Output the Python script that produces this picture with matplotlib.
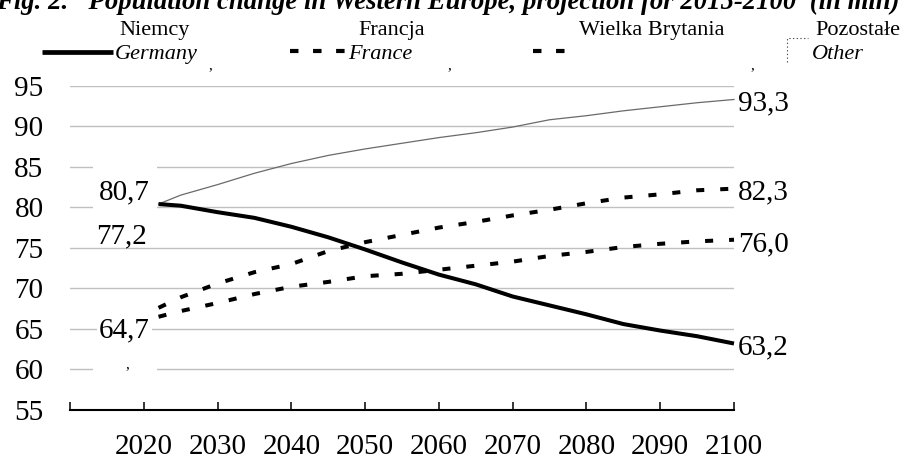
import matplotlib
matplotlib.use('Agg')
import matplotlib.pyplot as plt
from matplotlib.lines import Line2D
from matplotlib.patches import Rectangle

plt.rcParams['font.family'] = ['Liberation Serif', 'DejaVu Serif']
plt.rcParams['lines.scale_dashes'] = False

# dane (mln)
years = [2022, 2025, 2030, 2035, 2040, 2045, 2050, 2055, 2060, 2065, 2070, 2075, 2080, 2085, 2090, 2095, 2100]
germany = [80.4, 80.2, 79.4, 78.7, 77.6, 76.3, 74.8, 73.2, 71.7, 70.5, 69.0, 67.9, 66.8, 65.6, 64.8, 64.1, 63.2]
france = [66.5, 67.2, 68.2, 69.3, 70.2, 70.8, 71.5, 71.8, 72.3, 72.8, 73.3, 74.0, 74.5, 75.1, 75.5, 75.8, 76.0]
uk = [67.6, 68.9, 70.6, 72.0, 73.0, 74.6, 75.7, 76.6, 77.5, 78.2, 79.0, 79.7, 80.5, 81.2, 81.6, 82.1, 82.3]
other = [80.4, 81.5, 82.8, 84.2, 85.4, 86.4, 87.2, 87.9, 88.6, 89.2, 89.9, 90.8, 91.3, 91.9, 92.4, 92.9, 93.3]
start_labels = ['80,7', '77,2', '64,7']

year_ticks = [2010, 2020, 2030, 2040, 2050, 2060, 2070, 2080, 2090, 2100]
year_labels = ['', '2020', '2030', '2040', '2050', '2060', '2070', '2080', '2090', '2100']
y_ticks = [55, 60, 65, 70, 75, 80, 85, 90, 95]

names_pl = ['Niemcy', 'Francja', 'Wielka Brytania', 'Pozostałe']
names_en = ['Germany', 'France', '', 'Other']
title = 'Fig. 2.   Population change in Western Europe, projection for 2015-2100  (in mln)'

W, H = 913, 462
fig = plt.figure(figsize=(W / 100, H / 100), dpi=100)
ax = fig.add_axes([70 / W, 1 - 410 / H, 664 / W, (410 - 85.7) / H])

dash = (0, (5.8, 11.5))
ax.plot(years, other, color='#6a6a6a', lw=0.9, clip_on=False, zorder=2)
ax.plot(years, france, color='black', lw=2.9, linestyle=dash, dash_capstyle='butt', clip_on=False, zorder=3)
ax.plot(years, uk, color='black', lw=2.9, linestyle=dash, dash_capstyle='butt', clip_on=False, zorder=3)
ax.plot(years, germany, color='black', lw=2.9, solid_capstyle='butt', clip_on=False, zorder=4)

# etykiety na koncu linii
for s in [germany, france, uk, other]:
    ax.annotate(('%.1f' % s[-1]).replace('.', ','), (years[-1], s[-1]), xytext=(3, -3),
                textcoords='offset points', ha='left', va='center', fontsize=21,
                annotation_clip=False)

# etykiety na poczatku (przesuniete jak w oryginale)
ax.annotate(start_labels[0], (years[0], germany[0]), xytext=(-24.8, 8.6), textcoords='offset points',
            ha='center', va='center', fontsize=21, annotation_clip=False, zorder=5)
ax.annotate(start_labels[1], (years[0], other[0]), xytext=(-27, -23), textcoords='offset points',
            ha='center', va='center', fontsize=21, annotation_clip=False, zorder=5)
ax.annotate(start_labels[2], (years[0], france[0]), xytext=(-24.8, -10), textcoords='offset points',
            ha='center', va='center', fontsize=21, annotation_clip=False, zorder=5,
            bbox=dict(fc='white', ec='none', pad=1.5))

# biale tla etykiet zaslaniajace siatke
ax.add_patch(Rectangle((2013.1, 79.5), 8.7, 6.4, fc='white', ec='none', zorder=1, clip_on=False))
ax.add_patch(Rectangle((2013.1, 59.0), 8.7, 2.2, fc='white', ec='none', zorder=1, clip_on=False))
ax.text(2017.8, 60.6, ',', fontsize=11, ha='center', va='center', zorder=5)

ax.set_xlim(2010, 2100)
ax.set_ylim(55, 95)
ax.set_yticks(y_ticks)
ax.set_xticks(year_ticks, year_labels)
ax.yaxis.grid(True, color='#c0c0c0', lw=1.0)
ax.set_axisbelow(True)
ax.tick_params(axis='y', length=0, pad=19, labelsize=21)
ax.tick_params(axis='x', direction='in', length=6, width=1.1, pad=17, labelsize=21)
for side in ['top', 'right', 'left']:
    ax.spines[side].set_visible(False)
ax.spines['bottom'].set_linewidth(1.5)


def fx(x):
    return x / W


def fy(y):
    return 1 - y / H


# tytul (uciety u gory, jak w oryginale)
fig.text(fx(-4), fy(9), title, fontsize=19.3, fontweight='bold', fontstyle='italic',
         ha='left', va='baseline')

# legenda
fig.add_artist(Line2D([fx(42), fx(113)], [fy(51.7)] * 2, color='black', lw=3.4,
                      solid_capstyle='butt'))
fig.add_artist(Line2D([fx(290), fx(346)], [fy(51)] * 2, color='black', lw=3.0,
                      linestyle=(0, (6.1, 10.5)), dash_capstyle='butt'))
fig.add_artist(Line2D([fx(533), fx(567)], [fy(51)] * 2, color='black', lw=3.0,
                      linestyle=(0, (6.1, 10.5)), dash_capstyle='butt'))
fig.add_artist(Line2D([fx(787), fx(787), fx(808)], [fy(62), fy(38), fy(38)], color='#555555',
                      lw=0.8, linestyle=':'))

pl_x = [155, 392, 652, 858]
en_x = [115, 348, 0, 812]
for i in range(4):
    fig.text(fx(pl_x[i]), fy(35), names_pl[i], fontsize=16, ha='center', va='baseline')
    if names_en[i]:
        fig.text(fx(en_x[i]), fy(59), names_en[i], fontsize=16, fontstyle='italic',
                 ha='left', va='baseline')

for cx in [210, 449, 752]:
    fig.text(fx(cx), fy(66), ',', fontsize=11, ha='center', va='center')

fig.savefig('out.png', dpi=100)
